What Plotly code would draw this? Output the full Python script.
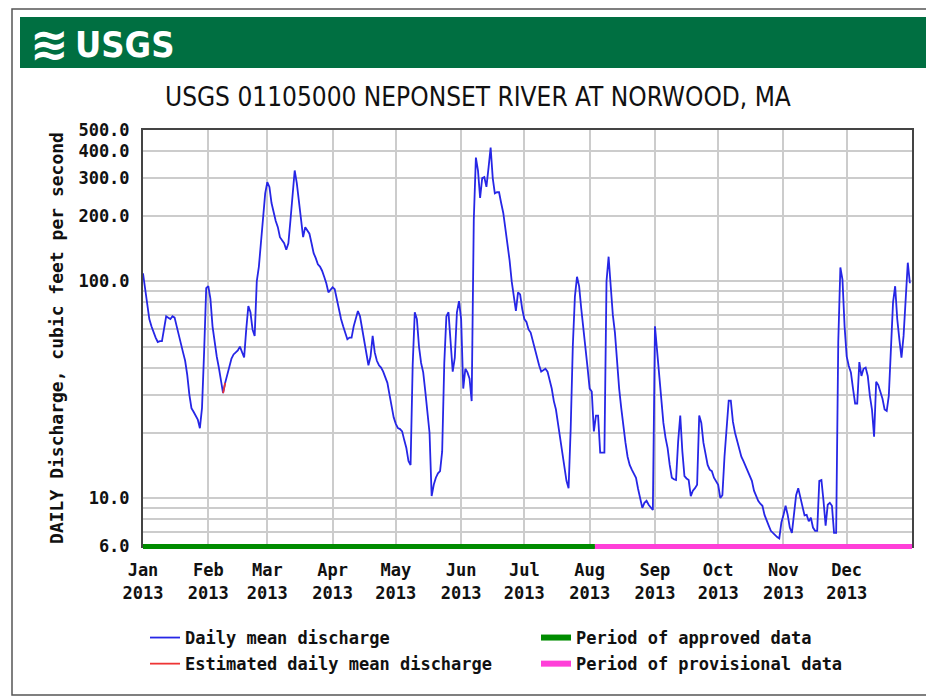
import pandas as pd
import plotly.graph_objects as go

# ---------------- data ----------------
start_date = "2013-01-01"
jan = [109, 92, 75, 67, 62, 58, 55, 52.5, 53, 53, 62, 69, 68, 67, 69, 68, 62, 56, 52, 47,
       43, 37, 30, 26, 25, 24, 23, 21, 26, 47, 93]
feb = [95, 83, 62, 52, 45, 40, 35, 30.5, 34, 37, 41, 44, 46, 47, 48, 50, 47, 44.5, 60, 77,
       72, 60, 56, 100, 117, 150, 192, 255]
mar = [287, 273, 230, 207, 190, 178, 160, 155, 150, 140, 150, 192, 264, 325, 284, 230, 200,
       160, 178, 172, 166, 150, 135, 128, 120, 117, 112, 105, 98, 89, 92]
apr = [94, 92, 82, 74.5, 67, 62, 57, 54, 55, 55, 62, 68, 73, 69, 60, 54, 47, 41, 45, 56,
       47, 43, 41, 40, 38.3, 36, 34, 30, 27, 23.5]
may = [22, 21, 20.8, 20.3, 18.5, 17, 14.8, 14.2, 41, 72, 67, 50, 42, 38, 31, 25, 20, 10.2,
       11.5, 12.4, 13, 13.3, 16.4, 42, 69, 72, 50, 38.3, 44.5, 72, 81]
jun = [67, 32, 39.5, 38, 35.5, 28, 192, 373, 325, 243, 300, 303, 273, 334, 415, 300, 255,
       258, 258, 230, 207, 175, 150, 125, 100, 83, 73, 89, 87, 74.5]
jul = [67, 65, 60, 58, 53, 50, 45, 41, 38.3, 39, 39.5, 38.3, 35, 32, 28, 25.6, 22, 19, 15.8,
       13.5, 12, 11.1, 20.9, 50, 85, 105, 95, 75, 62, 48.7, 40]
aug = [32, 31, 20.3, 24, 24, 16.2, 16.2, 16.2, 100, 130, 95, 70, 58, 42, 32, 26, 21, 18,
       15.5, 14.2, 13.5, 13, 12.4, 11, 10, 9.0, 9.5, 9.7, 9.3, 9.0, 8.8]
sep = [62, 48.7, 38.3, 28, 22.2, 19, 17, 14.2, 12.4, 12.2, 12.1, 18.2, 24, 16.4, 12.6, 12.3,
       12.1, 10.2, 10.8, 11.1, 11.5, 24, 22.2, 18, 15.8, 14.2, 13.5, 13.3, 12.4, 12]
oct_ = [11.5, 10, 10.3, 15.5, 22.2, 28.1, 28.1, 22.5, 20, 18.2, 16.5, 15.5, 14.8, 14, 13.3,
        12.5, 12, 10.8, 10.2, 9.7, 9.4, 9.2, 8.35, 7.8, 7.45, 7.05, 6.9, 6.7, 6.6, 6.5, 7.7]
nov = [8.35, 9.2, 8.35, 7.3, 6.9, 8.35, 10.3, 11.1, 10, 9.0, 8.3, 8.35, 7.8, 8.1, 7.3, 7.05,
       7.05, 12, 12.1, 9.7, 7.45, 9.3, 9.5, 9.2, 6.9, 6.9, 52.5, 116, 102, 62]
dec = [45, 40.7, 38, 32, 27.3, 27.3, 42.4, 36.6, 39.5, 40, 36.6, 29.7, 25.6, 19.2, 34.4,
       33.2, 31, 28.7, 25.6, 25.2, 29.7, 50, 80, 95, 67, 54, 44.5, 56, 89, 122, 98]

estimated_dates = ["2013-02-08", "2013-02-09"]
estimated_values = [30.5, 34]

approved_period = ["2013-01-01", "2013-08-03 12:00"]
provisional_period = ["2013-08-03 12:00", "2014-01-01"]

month_ticks = ["2013-01-01", "2013-02-01", "2013-03-01", "2013-04-01", "2013-05-01",
               "2013-06-01", "2013-07-01", "2013-08-01", "2013-09-01", "2013-10-01",
               "2013-11-01", "2013-12-01"]
month_labels = ["Jan<br>2013", "Feb<br>2013", "Mar<br>2013", "Apr<br>2013", "May<br>2013",
                "Jun<br>2013", "Jul<br>2013", "Aug<br>2013", "Sep<br>2013", "Oct<br>2013",
                "Nov<br>2013", "Dec<br>2013"]
y_tickvals = [6, 7, 8, 9, 10, 20, 30, 40, 50, 60, 70, 80, 90, 100, 200, 300, 400, 500]
y_ticktext = ["6.0", "", "", "", "10.0", "", "", "", "", "", "", "", "", "100.0",
              "200.0", "300.0", "400.0", "500.0"]

title_text = "USGS 01105000 NEPONSET RIVER AT NORWOOD, MA"
y_title = "DAILY Discharge, cubic feet per second"

# ---------------- figure ----------------
values = jan + feb + mar + apr + may + jun + jul + aug + sep + oct_ + nov + dec
dates = pd.date_range(start_date, periods=len(values), freq="D")

OFF = 8                      # page body margin
W, H = 934 - OFF, 696 - OFF
PLOT_L, PLOT_R, PLOT_T, PLOT_B = 143, 912, 130, 546   # target page pixels
L, T = PLOT_L - OFF, PLOT_T - OFF
R = W - (PLOT_R - OFF)
B = H - (PLOT_B - OFF)
PW, PH = PLOT_R - PLOT_L, PLOT_B - PLOT_T


def px_x(px):
    return (px - PLOT_L) / PW


def px_y(py):
    return (PLOT_B - py) / PH


MONO = "DejaVu Sans Mono, Liberation Mono, monospace"
NARROW = "DejaVu Sans Condensed, Liberation Sans Narrow, Arial Narrow, sans-serif"
GREEN = "#008c00"
PINK = "#ff3fd8"
TXT = "#111111"


def mono(size):
    return dict(family=MONO, size=size, color=TXT, weight="bold")


fig = go.Figure()
fig.add_trace(go.Scatter(x=dates, y=values, mode="lines", name="Daily mean discharge",
                         line=dict(color="#2626e6", width=1.8), legend="legend",
                         legendgroup="a"))
fig.add_trace(go.Scatter(x=pd.to_datetime(estimated_dates), y=estimated_values, mode="lines",
                         name="Estimated daily mean discharge",
                         line=dict(color="#ee3535", width=1.8), legend="legend",
                         legendgroup="b"))
fig.add_trace(go.Scatter(x=[None], y=[None], mode="lines", name="Period of approved data",
                         line=dict(color=GREEN, width=6), legend="legend2", legendgroup="c"))
fig.add_trace(go.Scatter(x=[None], y=[None], mode="lines", name="Period of provisional data",
                         line=dict(color=PINK, width=6), legend="legend2", legendgroup="d"))

shapes = [
    # outer frame
    dict(type="rect", xref="paper", yref="paper", x0=px_x(12), x1=px_x(950),
         y0=px_y(695), y1=px_y(9), line=dict(color="#555555", width=1.5), layer="below"),
    # green banner
    dict(type="rect", xref="paper", yref="paper", x0=px_x(20), x1=px_x(950),
         y0=px_y(68), y1=px_y(17), fillcolor="#006f41", line=dict(width=0), layer="below"),
    # data period bars
    dict(type="rect", xref="x", yref="paper", x0=approved_period[0], x1=approved_period[1],
         y0=-0.007, y1=0.005, fillcolor=GREEN, line=dict(width=0), layer="above"),
    dict(type="rect", xref="x", yref="paper", x0=provisional_period[0],
         x1=provisional_period[1], y0=-0.007, y1=0.005, fillcolor=PINK,
         line=dict(width=0), layer="above"),
]

annotations = [
    dict(text="USGS", xref="paper", yref="paper", x=px_x(73), y=px_y(44),
         xanchor="left", yanchor="middle", showarrow=False,
         font=dict(family=NARROW, size=36, color="white", weight="bold")),
    dict(text="≋", xref="paper", yref="paper", x=px_x(49), y=px_y(44),
         xanchor="center", yanchor="middle", showarrow=False,
         font=dict(family="DejaVu Sans", size=46, color="white", weight="bold")),
    dict(text=title_text, xref="paper", yref="paper", x=px_x(478), y=px_y(97),
         xanchor="center", yanchor="middle", showarrow=False,
         font=dict(family=NARROW, size=26, color=TXT, weight="normal")),
]

fig.update_layout(
    width=W, height=H,
    margin=dict(l=L, r=R, t=T, b=B, autoexpand=False),
    paper_bgcolor="white", plot_bgcolor="white",
    font=mono(16),
    shapes=shapes, annotations=annotations,
    showlegend=True,
    legend=dict(x=px_x(145), y=px_y(620), xanchor="left", yanchor="top",
                orientation="v", font=mono(17),
                tracegroupgap=1, bgcolor="rgba(0,0,0,0)", itemwidth=30),
    legend2=dict(x=px_x(536), y=px_y(620), xanchor="left", yanchor="top",
                 orientation="v", font=mono(17),
                 tracegroupgap=1, bgcolor="rgba(0,0,0,0)", itemwidth=30),
)

fig.update_xaxes(
    type="date", range=["2013-01-01", "2014-01-01"],
    tickmode="array", tickvals=month_ticks, ticktext=month_labels,
    showgrid=True, gridcolor="#cccccc", gridwidth=1.5,
    showline=True, linecolor="#444444", linewidth=2, mirror=True,
    ticks="outside", ticklen=8, tickcolor="rgba(0,0,0,0)",
    tickfont=mono(17), automargin=False,
    zeroline=False,
)
fig.update_yaxes(
    type="log", range=[0.7781512504, 2.6989700043],
    tickmode="array", tickvals=y_tickvals, ticktext=y_ticktext,
    showgrid=True, gridcolor="#cccccc", gridwidth=1.5,
    showline=True, linecolor="#444444", linewidth=2, mirror=True,
    ticks="outside", ticklen=8, tickcolor="rgba(0,0,0,0)",
    tickfont=mono(17), automargin=False,
    title=dict(text=y_title, standoff=10, font=mono(18)),
    zeroline=False,
)

fig.write_html("out.html")
